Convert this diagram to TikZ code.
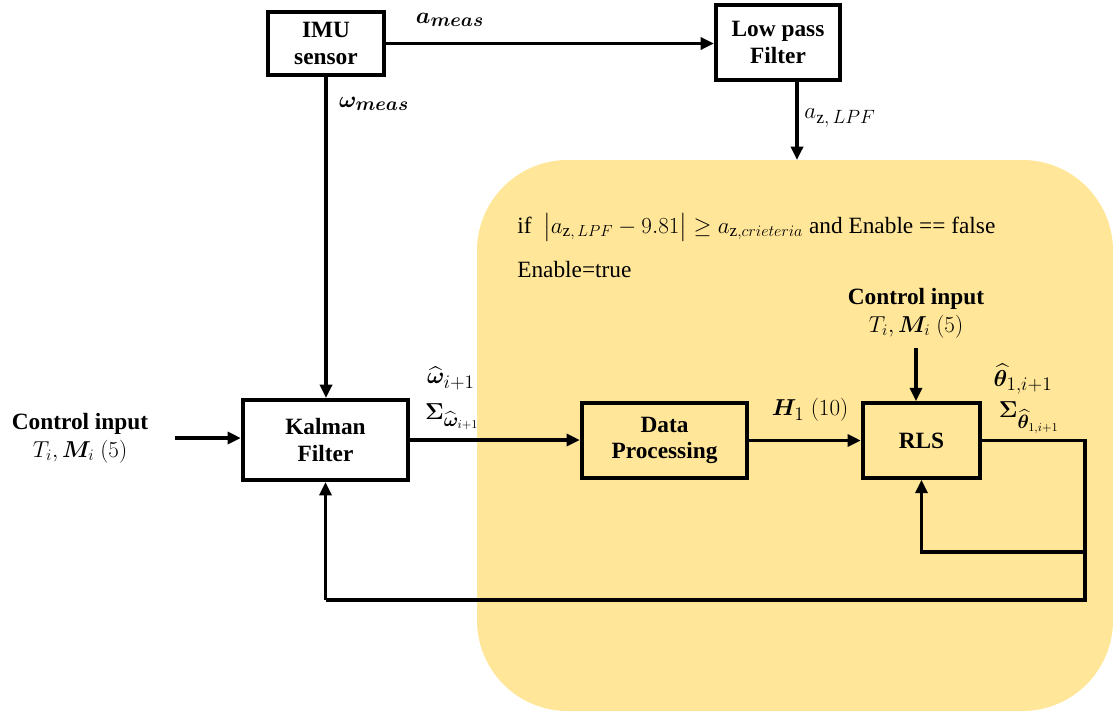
\documentclass[tikz,border=0pt]{standalone}
\usepackage{amsmath,bm}
\usepackage{fontspec}
\setmainfont{Liberation Serif}
\usetikzlibrary{arrows.meta}
\definecolor{ygold}{RGB}{255,230,153}
\tikzset{
  blk/.style={draw=black, line width=3pt, fill=white, align=center, font=\bfseries\fontsize{17.5}{20}\selectfont, inner sep=0pt},
  conn/.style={line width=2.6pt, -{Triangle[length=10pt,width=9pt]}},
  line/.style={line width=2.6pt},
  lbl/.style={font=\fontsize{17.5}{20}\selectfont, inner sep=0pt, align=center},
  mlbl/.style={font=\fontsize{19}{21}\selectfont, inner sep=0pt, align=center},
}
\newcommand{\bigmath}[1]{{\fontsize{18.5}{21}\selectfont$#1$}}
\begin{document}
\begin{tikzpicture}[x=0.75pt,y=-0.75pt]
\useasboundingbox (0,0) rectangle (1113,711);
% shaded region
\fill[ygold, rounded corners=68pt] (477,160) rectangle (1113,711);
% blocks
\node[blk, minimum width=87pt, minimum height=47pt] (imu) at (326,43.5) {IMU\\sensor};
\node[blk, minimum width=93pt, minimum height=56pt] (lpf) at (778,42.5) {Low pass\\Filter};
\node[blk, minimum width=124pt, minimum height=60pt] (kf) at (325.5,440) {Kalman\\Filter};
\node[blk, fill=ygold, minimum width=124pt, minimum height=56pt] (dp) at (664.5,440.5) {Data\\Processing};
\node[blk, fill=ygold, minimum width=88pt, minimum height=56pt] (rls) at (921.5,440.5) {RLS};
% texts
\node[lbl] (ctrlL) at (80,438) {\textbf{Control input}\\[1pt]$T_i,\bm{M}_i\ (5)$};
\node[lbl] (ctrlR) at (916,313) {\textbf{Control input}\\[1pt]$T_i,\bm{M}_i\ (5)$};
\node[lbl, anchor=base west] (cond) at (517,233) {if\ \ \bigmath{\bigl|a_{\mathrm{z},\,LPF}-9.81\bigr|\geq a_{\mathrm{z},crieteria}} and Enable == false};
\node[lbl, anchor=base west] (en) at (517,277) {Enable=true};
\node[mlbl] (ameas) at (450,20) {$\bm{a_{meas}}$};
\node[mlbl] (wmeas) at (374,104) {$\bm{\omega_{meas}}$};
\node[mlbl] (azlpf) at (840,118) {$a_{\mathrm{z},\,LPF}$};
\node[mlbl] (what) at (451,378) {$\widehat{\bm{\omega}}_{i+1}$};
\node[mlbl] (sw) at (452,417) {$\bm{\Sigma}_{\widehat{\bm{\omega}}_{i+1}}$};
\node[mlbl] (h1) at (810,410) {$\bm{H}_1\ (10)$};
\node[mlbl] (th) at (1023,379) {$\widehat{\bm{\theta}}_{1,i+1}$};
\node[mlbl] (sth) at (1029,418) {$\bm{\Sigma}_{\widehat{\bm{\theta}}_{1,i+1}}$};
% coordinates
\coordinate (cin) at (175,438);
\coordinate (lpfend) at (797,160);
\coordinate (rin) at (916,348);
\coordinate (fbR) at (1085,600);
\coordinate (brR) at (1085,552);
% connectors
\draw[conn] (imu.east) -- (imu.east -| lpf.west);
\draw[conn] (imu.south) -- (imu.south |- kf.north);
\draw[conn] (lpf.south -| lpfend) -- (lpfend);
\draw[conn] (cin) -- (cin -| kf.west);
\draw[conn] (kf.east) -- (kf.east -| dp.west);
\draw[conn] (dp.east) -- (dp.east -| rls.west);
\draw[conn] (rin) -- (rin |- rls.north);
\draw[line] (rls.east) -- (rls.east -| fbR) -- (fbR) -- (fbR -| kf.south);
\draw[conn] (fbR -| kf.south) -- (kf.south);
\draw[conn] (brR) -- (brR -| rls.south) -- (rls.south);
\end{tikzpicture}
\end{document}
